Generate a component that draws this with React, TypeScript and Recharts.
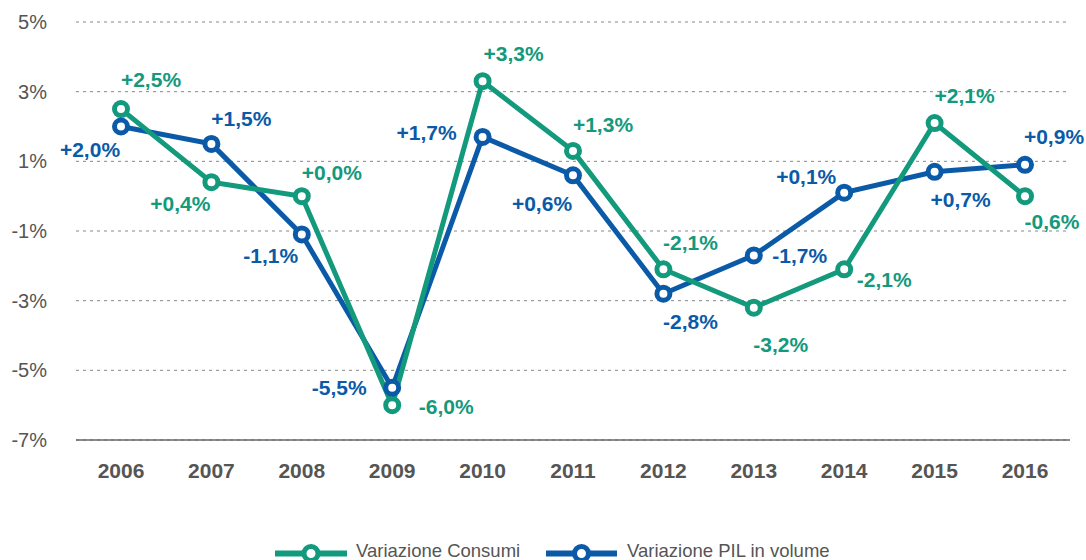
import { CartesianGrid, LabelList, Legend, Line, LineChart, XAxis, YAxis } from "recharts";

const years = ["2006", "2007", "2008", "2009", "2010", "2011", "2012", "2013", "2014", "2015", "2016"];
const consumi = [2.5, 0.4, 0.0, -6.0, 3.3, 1.3, -2.1, -3.2, -2.1, 2.1, 0.0];
const consumiLabels = ["+2,5%", "+0,4%", "+0,0%", "-6,0%", "+3,3%", "+1,3%", "-2,1%", "-3,2%", "-2,1%", "+2,1%", "-0,6%"];
const pil = [2.0, 1.5, -1.1, -5.5, 1.7, 0.6, -2.8, -1.7, 0.1, 0.7, 0.9];
const pilLabels = ["+2,0%", "+1,5%", "-1,1%", "-5,5%", "+1,7%", "+0,6%", "-2,8%", "-1,7%", "+0,1%", "+0,7%", "+0,9%"];
const yTicks = [-7, -5, -3, -1, 1, 3, 5];

const GREEN = "#13997c";
const BLUE = "#0b5aa7";
const FONT = "'Liberation Sans', Arial, Helvetica, sans-serif";

// label offsets (px) from each point, picked to match the reference placement
const consumiOffsets: [number, number][] = [
  [30, -30], [-31, 21], [30, -24], [54, 1], [31, -28], [30, -26],
  [27, -27], [27, 37], [40, 10], [30, -28], [27, 25],
];
const pilOffsets: [number, number][] = [
  [-31, 23], [30, -25], [-31, 21], [-53, 0], [-56, -5], [-31, 28],
  [27, 28], [46, 0], [-38, -16], [26, 28], [29, -28],
];

const data = years.map((y, i) => ({ year: y, consumi: consumi[i], pil: pil[i] }));

function makeLabel(labels: string[], offsets: [number, number][], color: string) {
  return (props: any) => {
    const { x, y, index } = props;
    const [dx, dy] = offsets[index];
    return (
      <text
        x={x + dx}
        y={y + dy}
        dy="0.36em"
        textAnchor="middle"
        fill={color}
        fontSize={21}
        fontWeight={700}
        fontFamily={FONT}
      >
        {labels[index]}
      </text>
    );
  };
}

function LegendContent() {
  const items = [
    { label: "Variazione Consumi", color: GREEN, x0: 275, x1: 347, text: 356 },
    { label: "Variazione PIL in volume", color: BLUE, x0: 546, x1: 617, text: 627 },
  ];
  return (
    <svg width={1086} height={32} style={{ display: "block", overflow: "visible" }}>
      {items.map((it) => (
        <g key={it.label}>
          <line x1={it.x0} x2={it.x1} y1={25.5} y2={25.5} stroke={it.color} strokeWidth={6} />
          <circle cx={(it.x0 + it.x1) / 2} cy={25.5} r={7} fill="#fff" stroke={it.color} strokeWidth={5} />
          <text x={it.text} y={29} fontSize={18.5} fill="#555" fontFamily={FONT}>
            {it.label}
          </text>
        </g>
      ))}
    </svg>
  );
}

export default function App() {
  return (
    <div style={{ position: "absolute", left: 0, top: 0, width: 1086, height: 560, overflow: "hidden", background: "#fff" }}>
      <LineChart width={1086} height={560} data={data} margin={{ top: 22, right: 16, bottom: 0, left: 0 }}>
        <CartesianGrid vertical={false} stroke="#888" strokeDasharray="3 4" />
        <XAxis
          dataKey="year"
          height={88}
          padding={{ left: 45, right: 45 }}
          tickSize={0}
          tickMargin={23}
          axisLine={{ stroke: "#666", strokeWidth: 1.5 }}
          tickLine={false}
          tick={{ fill: "#555", fontSize: 21, fontWeight: 700, fontFamily: FONT }}
        />
        <YAxis
          width={76}
          domain={[-7, 5]}
          ticks={yTicks}
          interval={0}
          tickSize={0}
          tickMargin={29}
          axisLine={false}
          tickLine={false}
          tickFormatter={(v) => `${v}%`}
          tick={{ fill: "#555", fontSize: 20, fontFamily: FONT }}
        />
        <Legend verticalAlign="bottom" height={32} wrapperStyle={{ left: 0, bottom: 0, width: 1086, height: 32 }} content={<LegendContent />} />
        <Line
          dataKey="pil"
          name="Variazione PIL in volume"
          stroke={BLUE}
          strokeWidth={5}
          dot={false}
          legendType="none"
          isAnimationActive={false}
        />
        <Line
          dataKey="consumi"
          name="Variazione Consumi"
          stroke={GREEN}
          strokeWidth={5}
          dot={{ r: 6.5, strokeWidth: 5, fill: "#fff", stroke: GREEN }}
          isAnimationActive={false}
        >
          <LabelList dataKey="consumi" content={makeLabel(consumiLabels, consumiOffsets, GREEN)} />
        </Line>
        <Line
          dataKey="pil"
          name="Variazione PIL in volume"
          stroke="transparent"
          strokeWidth={5}
          dot={{ r: 6.5, strokeWidth: 5, fill: "#fff", stroke: BLUE, strokeOpacity: 1 }}
          isAnimationActive={false}
        >
          <LabelList dataKey="pil" content={makeLabel(pilLabels, pilOffsets, BLUE)} />
        </Line>
      </LineChart>
    </div>
  );
}
